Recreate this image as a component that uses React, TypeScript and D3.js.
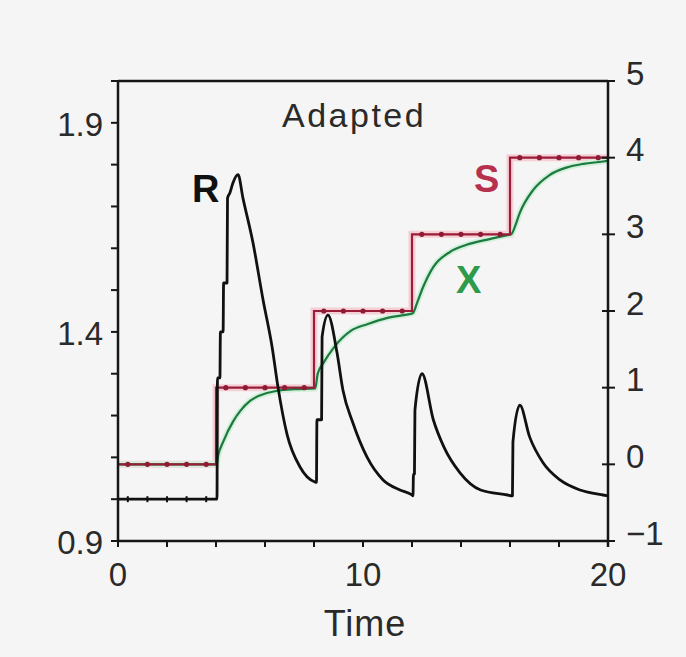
import React from 'react';
import * as d3 from 'd3';

// ---- axis ticks / labels ----
const timeTicks = [0, 2, 4, 6, 8, 10, 12, 14, 16, 18, 20];
const timeLabels = [0, 10, 20];
const leftTicks = [0.9, 1.0, 1.1, 1.2, 1.3, 1.4, 1.5, 1.6, 1.7, 1.8, 1.9, 2.0];
const leftLabels = ['0.9', '1.4', '1.9'];
const rightTicks = [-1, 0, 1, 2, 3, 4, 5];

// ---- R (left axis) ----
const rTimes = [0, 4.04, 4.06, 4.16, 4.18, 4.29, 4.31, 4.45, 4.47, 4.57, 4.69, 4.9, 5.1, 5.51, 5.92, 6.29, 6.53, 6.9, 7.43, 8.04,
  8.1, 8.12, 8.31, 8.33, 8.57, 8.94, 9.18, 9.59, 10.16, 10.82, 11.51, 12.0,
  12.04, 12.06, 12.1, 12.12, 12.41, 12.87, 13.3, 13.96, 14.8, 15.9, 16.08,
  16.1, 16.12, 16.4, 16.8, 17.35, 18.04, 18.86, 19.8, 20];
const rValues = [1.0, 1.0, 1.29, 1.29, 1.4, 1.4, 1.517, 1.517, 1.72, 1.733, 1.756, 1.776, 1.72, 1.613, 1.477, 1.364, 1.268, 1.155, 1.077, 1.041,
  1.04, 1.19, 1.19, 1.388, 1.44, 1.35, 1.261, 1.182, 1.101, 1.046, 1.022, 1.01,
  1.008, 1.06, 1.06, 1.213, 1.30, 1.19, 1.125, 1.063, 1.022, 1.01, 1.008,
  1.008, 1.137, 1.225, 1.149, 1.087, 1.046, 1.022, 1.01, 1.008];

// ---- X (right axis) ----
const xTimes = [0, 4.02, 4.1, 4.3, 4.7, 5.0, 5.4, 6.08, 6.5, 7.2, 8.05, 8.15, 8.4, 8.8, 9.5, 10.2, 11.0, 11.9, 12.03,
  12.2, 12.45, 12.86, 13.55, 14.2, 15.2, 15.9, 16.05, 16.2, 16.4, 16.95, 17.6, 18.3, 19.0, 19.8, 20];
const xValues = [0, 0, 0.13, 0.3, 0.56, 0.7, 0.83, 0.93, 0.96, 0.98, 0.99, 1.18, 1.33, 1.52, 1.74, 1.83, 1.91, 1.96, 1.97,
  2.1, 2.31, 2.57, 2.77, 2.86, 2.94, 2.99, 3.0, 3.1, 3.28, 3.58, 3.77, 3.87, 3.92, 3.95, 3.96];

// ---- S (right axis) ----
const sTimes = [0, 4, 8, 12, 16, 20];
const sLevels = [0, 1, 2, 3, 4];
const markerTimes = [0.4, 1.2, 2.0, 2.8, 3.6, 4.4, 5.2, 6.0, 6.8, 7.6, 8.4, 9.2, 10.0, 10.8, 11.6, 12.4, 13.2, 14.0, 14.8, 15.6, 16.4, 17.2, 18.0, 18.8, 19.6];

const W = 686, H = 657;
const FONT = "'Liberation Sans', Arial, Helvetica, sans-serif";

export default function App() {
  const x = d3.scaleLinear().domain([0, 20]).range([118, 608]);
  const yL = d3.scaleLinear().domain([0.9, 2.0]).range([541, 81]);
  const yR = d3.scaleLinear().domain([-1, 5]).range([541, 81]);

  const rData = rTimes.map((t, i) => [t, rValues[i]] as [number, number]);
  const xData = xTimes.map((t, i) => [t, xValues[i]] as [number, number]);
  const sData: [number, number][] = [];
  sLevels.forEach((lv, i) => {
    sData.push([sTimes[i], lv]);
    sData.push([sTimes[i + 1], lv]);
  });

  const rLine = d3.line<[number, number]>().x(d => x(d[0])).y(d => yL(d[1])).curve(d3.curveMonotoneX);
  const xLine = d3.line<[number, number]>().x(d => x(d[0])).y(d => yR(d[1])).curve(d3.curveMonotoneX);
  const sLine = d3.line<[number, number]>().x(d => x(d[0])).y(d => yR(d[1]));

  const levelAt = (t: number) => {
    const i = Math.min(sLevels.length - 1, Math.max(0, d3.bisectRight(sTimes, t) - 1));
    return sLevels[i];
  };

  const axisColor = '#161616';

  return (
    <svg width={W} height={H} style={{ position: 'absolute', left: 0, top: 0 }} fontFamily={FONT}>
      <rect x={0} y={0} width={W} height={H} fill="#f5f5f5" />

      {/* S halo + line */}
      <path d={sLine(sData) || ''} fill="none" stroke="#f6cfd6" strokeWidth={7} />
      {/* X halo + line */}
      <path d={xLine(xData) || ''} fill="none" stroke="#d3f0dc" strokeWidth={6} />
      <path d={xLine(xData) || ''} fill="none" stroke="#1d7a3e" strokeWidth={2.2} />
      <path d={sLine(sData) || ''} fill="none" stroke="#9c1d3a" strokeWidth={2.2} />
      {markerTimes.map((t, i) => (
        <circle key={'sm' + i} cx={x(t)} cy={yR(levelAt(t))} r={2.6} fill="#8e1a34" />
      ))}

      {/* R */}
      <path d={rLine(rData) || ''} fill="none" stroke="#111" strokeWidth={2.8} strokeLinejoin="round" />
      {markerTimes.filter(t => t < 4).map((t, i) => (
        <line key={'rm' + i} x1={x(t)} x2={x(t)} y1={yL(1.0) - 3} y2={yL(1.0) + 3} stroke="#111" strokeWidth={2} />
      ))}

      {/* frame */}
      <line x1={x(0)} x2={x(20)} y1={yL(2.0)} y2={yL(2.0)} stroke={axisColor} strokeWidth={2.5} />
      <line x1={x(0)} x2={x(20)} y1={yL(0.9)} y2={yL(0.9)} stroke={axisColor} strokeWidth={2.5} />
      <line x1={x(0)} x2={x(0)} y1={yL(2.0)} y2={yL(0.9) + 1} stroke={axisColor} strokeWidth={2.5} />
      <line x1={x(20)} x2={x(20)} y1={yL(2.0)} y2={yL(0.9) + 6} stroke={axisColor} strokeWidth={2.5} />

      {/* left ticks */}
      {leftTicks.map((v, i) => (
        <line key={'lt' + i} x1={x(0) - 7} x2={x(0)} y1={yL(v)} y2={yL(v)} stroke={axisColor} strokeWidth={2} />
      ))}
      {leftLabels.map((s, i) => (
        <text key={'ll' + i} x={103} y={yL(+s) + 4} textAnchor="end" dominantBaseline="middle" fontSize={33} fill="#2a2a2a">{s}</text>
      ))}

      {/* right ticks */}
      {rightTicks.map((v, i) => (
        <line key={'rt' + i} x1={x(20) - 6} x2={x(20) + 7} y1={yR(v)} y2={yR(v)} stroke={axisColor} strokeWidth={2} />
      ))}
      {rightTicks.map((v, i) => (
        <text key={'rl' + i} x={626} y={yR(v) - 5} dominantBaseline="middle" fontSize={33} fill="#2a2a2a">{v < 0 ? '\u2212' + Math.abs(v) : String(v)}</text>
      ))}

      {/* bottom ticks */}
      {timeTicks.map((t, i) => (
        <line key={'bt' + i} x1={x(t)} x2={x(t)} y1={yL(0.9)} y2={yL(0.9) + 6} stroke={axisColor} strokeWidth={2} />
      ))}
      {timeLabels.map((t, i) => (
        <text key={'bl' + i} x={x(t)} y={586} textAnchor="middle" fontSize={33} fill="#2a2a2a">{t}</text>
      ))}
      <text x={365} y={636} textAnchor="middle" fontSize={36} letterSpacing={1} fill="#2a2a2a">Time</text>

      {/* annotations */}
      <text x={282} y={127} fontSize={34} letterSpacing={2.5} fill="#2a2a2a">Adapted</text>
      <text x={192} y={202} fontSize={38} fontWeight="bold" fill="#111">R</text>
      <text x={474} y={192} fontSize={38} fontWeight="bold" fill="#b5314d">S</text>
      <text x={456} y={293} fontSize={38} fontWeight="bold" fill="#2d9a4c">X</text>
    </svg>
  );
}
